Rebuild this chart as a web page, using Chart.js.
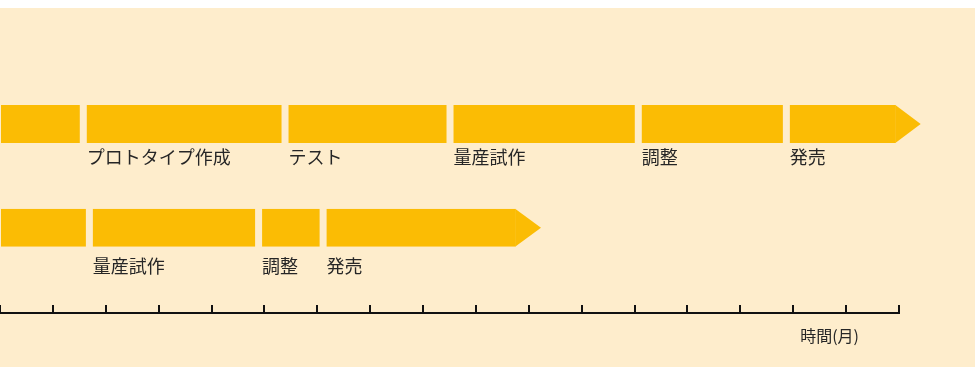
<!DOCTYPE html>
<html><head><meta charset="utf-8">
<script src="https://cdn.jsdelivr.net/npm/chart.js@4/dist/chart.umd.min.js"></script>
<style>
html,body{margin:0;padding:0;background:#fff;width:975px;height:367px;overflow:hidden}
#wrap{position:absolute;left:0;top:8px;width:975px;height:359px;background:#FEEDCC}
</style></head><body>
<div id="wrap"><canvas id="c"></canvas></div>
<script>
// ---- data (months) ----
const rows = [1, 2];
const row1Phases = ['', 'プロトタイプ作成', 'テスト', '量産試作', '調整', '発売'];
const row1Bounds = [0, 1.575, 5.39, 8.51, 12.07, 14.87, 16.94];
const row2Phases = ['', '量産試作', '調整', '発売'];
const row2Bounds = [0, 1.69, 4.89, 6.11, 9.75];
const arrowTips = [17.41, 10.23];
const monthMin = 0, monthMax = 17;
const axisTitle = '時間(月)';

// ---- styles ----
const BG = '#FEEDCC', BAR = '#FBBC04', INK = '#262626', AXIS = '#111111';
const GAP = 7;
const labelOffsets = [14, 19];
const FONT = '"Noto Sans CJK JP", "Noto Sans", sans-serif';

const phaseSets = [row1Phases, row2Phases];
const boundSets = [row1Bounds, row2Bounds];
const segs = [];
rows.forEach((r, ri) => {
  const ph = phaseSets[ri], b = boundSets[ri];
  ph.forEach((name, i) => {
    segs.push({x: [b[i], b[i + 1]], y: r, label: name, row: ri, first: i === 0, last: i === ph.length - 1});
  });
});

const decor = {
  id: 'decor',
  afterDatasetsDraw(chart) {
    const ctx = chart.ctx, xs = chart.scales.x, meta = chart.getDatasetMeta(0);
    ctx.save();
    meta.data.forEach((el, i) => {
      const raw = segs[i];
      const top = el.y - el.height / 2, bot = el.y + el.height / 2;
      if (raw.last) {
        const tip = xs.getPixelForValue(arrowTips[raw.row]);
        const x0 = xs.getPixelForValue(raw.x[1]);
        ctx.fillStyle = BAR;
        ctx.beginPath();
        ctx.moveTo(x0 - 0.5, top);
        ctx.lineTo(tip, el.y);
        ctx.lineTo(x0 - 0.5, bot);
        ctx.closePath();
        ctx.fill();
      }
      if (raw.label) {
        ctx.fillStyle = INK;
        ctx.font = '18px ' + FONT;
        ctx.textAlign = 'left';
        ctx.textBaseline = 'middle';
        const lx = xs.getPixelForValue(raw.x[0]) + (raw.first ? 0 : GAP / 2);
        ctx.fillText(raw.label, lx, bot + labelOffsets[raw.row]);
      }
    });
    const ca = chart.chartArea;
    ctx.fillStyle = INK;
    ctx.font = '16px ' + FONT;
    ctx.textAlign = 'right';
    ctx.textBaseline = 'middle';
    ctx.fillText(axisTitle, ca.right - 40, ca.bottom + 23);
    ctx.restore();
  }
};

Chart.defaults.font.family = FONT;
new Chart(document.getElementById('c'), {
  type: 'bar',
  data: {
    datasets: [{
      data: segs,
      backgroundColor: BAR,
      borderColor: BG,
      borderSkipped: false,
      borderWidth: (c) => {
        const r = c.raw;
        if (!r) return 0;
        return {left: r.first ? 0 : GAP / 2, right: r.last ? 0 : GAP / 2, top: 0, bottom: 0};
      },
      barThickness: 38,
      inflateAmount: 0
    }]
  },
  options: {
    indexAxis: 'y',
    responsive: true,
    maintainAspectRatio: false,
    animation: false,
    layout: {padding: {left: 0, right: 76, top: 12, bottom: 54}},
    plugins: {legend: {display: false}, tooltip: {enabled: false}},
    scales: {
      x: {
        type: 'linear', min: monthMin, max: monthMax,
        ticks: {stepSize: 1, display: false},
        grid: {drawOnChartArea: false, drawTicks: true, tickLength: -8, color: AXIS, lineWidth: 2},
        border: {display: true, color: AXIS, width: 2},
        afterFit: (s) => { s.height = 0; }
      },
      y: {type: 'linear', reverse: true, offset: false, min: 0, max: 2.82, display: false}
    }
  },
  plugins: [decor]
});
</script>
</body></html>
